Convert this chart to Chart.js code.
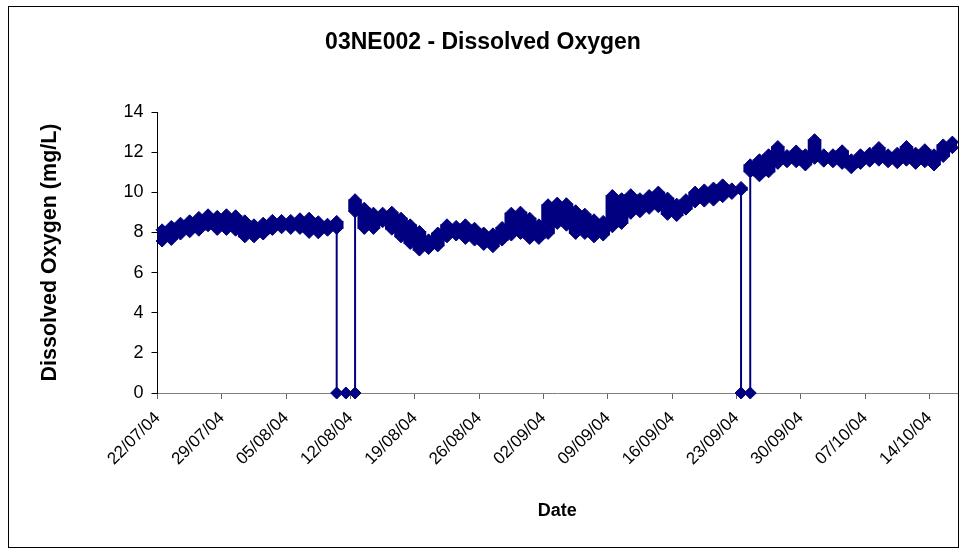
<!DOCTYPE html>
<html><head><meta charset="utf-8">
<script src="https://cdn.jsdelivr.net/npm/chart.js@4.4.0/dist/chart.umd.min.js"></script>
<style>html,body{margin:0;padding:0;background:#fff;}canvas{display:block;}</style>
</head><body>
<canvas id="c" width="966" height="555"></canvas>
<script>
const chartTitle = '03NE002 - Dissolved Oxygen';
const xAxisTitle = 'Date';
const yAxisTitle = 'Dissolved Oxygen (mg/L)';
const tickLabels = ['22/07/04','29/07/04','05/08/04','12/08/04','19/08/04','26/08/04','02/09/04','09/09/04','16/09/04','23/09/04','30/09/04','07/10/04','14/10/04'];
const tickStepDays = 7;
const axisDays = 87;          // 22/07/04 .. 17/10/04
const yMin = 0, yMax = 14, yStep = 2;

// Daily lowest / highest readings (mg/L), day 0 = 22/07/04; null = no normal reading that day
const dailyLow = [7.57,7.65,7.92,8.03,8.11,8.33,8.15,8.15,8.11,7.78,
  7.78,7.92,8.15,8.23,8.20,8.20,8.00,7.98,8.11,8.20,
  null,9.03,8.20,8.20,8.53,8.16,7.78,7.45,7.12,7.20,
  7.33,7.78,7.87,7.70,7.62,7.40,7.29,7.62,7.87,7.95,
  7.70,7.70,7.95,8.45,8.36,7.95,7.95,7.78,7.87,8.28,
  8.45,8.95,9.03,9.20,9.28,8.90,8.84,9.16,9.52,9.56,
  9.61,9.78,9.94,10.11,11.02,10.82,11.02,11.44,11.52,11.52,
  11.36,11.69,11.55,11.52,11.44,11.22,11.44,11.55,11.60,11.52,
  11.47,11.60,11.44,11.52,11.36,11.78,12.22];
const dailyHigh = [8.13,8.30,8.46,8.58,8.75,8.88,8.80,8.88,8.83,8.58,
  8.38,8.46,8.60,8.60,8.60,8.68,8.71,8.53,8.41,8.55,
  null,9.63,9.21,8.96,8.96,9.01,8.71,8.38,8.05,7.63,
  7.97,8.38,8.30,8.38,8.21,7.97,7.93,8.25,8.96,9.01,
  8.71,8.38,9.38,9.46,9.43,9.08,8.91,8.63,8.55,9.84,
  9.68,9.88,9.68,9.84,10.01,9.71,9.41,9.63,10.01,10.12,
  10.21,10.37,10.17,10.24,11.37,11.62,11.87,12.28,11.83,12.06,
  11.87,12.62,11.87,11.87,12.07,11.62,11.87,11.95,12.23,11.87,
  11.95,12.28,11.95,12.12,11.87,12.36,12.50];
// Days on which the probe logged 0 mg/L readings
const zeroDays = [19,20,21,63,64];

// readings in time order (each day's readings are plotted at mid-day)
const points = [];
const ranges = [];
for (let d = 0; d < dailyLow.length; d++) {
  const x = d + 0.5;
  const vals = dailyLow[d] == null ? [] : [dailyLow[d], dailyHigh[d]];
  const hasZero = zeroDays.includes(d);
  const zeroFirst = hasZero && zeroDays.includes(d - 1);
  if (zeroFirst) points.push({x, y: 0});
  vals.forEach(v => points.push({x, y: v}));
  if (hasZero && !zeroFirst) points.push({x, y: 0});
  if (vals.length) ranges.push({x, y: [dailyLow[d], dailyHigh[d]]});
}

const FONT = 'Liberation Sans, Arial, sans-serif';
const NAVY = '#000080';

const framePlugin = {
  id: 'frame',
  afterDraw(chart) {
    const c = chart.ctx;
    c.save();
    c.strokeStyle = '#000';
    c.lineWidth = 1;
    c.strokeRect(8.5, 6.5, 950, 541);
    c.restore();
  }
};

new Chart(document.getElementById('c'), {
  data: {
    datasets: [{
      type: 'bar',
      data: ranges,
      backgroundColor: NAVY,
      borderWidth: 0,
      barThickness: 13,
      grouped: false,
      order: 2
    }, {
      type: 'line',
      data: points,
      borderColor: NAVY,
      backgroundColor: NAVY,
      borderWidth: 2,
      pointStyle: 'rectRot',
      pointRadius: 6,
      pointBorderWidth: 1,
      pointBackgroundColor: NAVY,
      pointBorderColor: NAVY,
      tension: 0,
      clip: false,
      order: 1
    }]
  },
  options: {
    responsive: false,
    animation: false,
    devicePixelRatio: 1,
    layout: { padding: { left: 9, right: 9, top: 7, bottom: 8 } },
    plugins: {
      legend: { display: false },
      tooltip: { enabled: false },
      title: {
        display: true, text: chartTitle, color: '#000',
        font: { family: FONT, size: 23, weight: 'bold', lineHeight: 1 },
        padding: { top: 24, bottom: 58 }
      }
    },
    scales: {
      x: {
        type: 'linear', min: 0, max: axisDays, offset: false,
        afterBuildTicks: s => { s.ticks = tickLabels.map((_, i) => ({ value: i * tickStepDays })); },
        afterFit: s => { s.height = 154; },
        ticks: {
          autoSkip: false, maxRotation: 45, minRotation: 45, color: '#000', padding: 9,
          font: { family: FONT, size: 17 },
          callback: v => tickLabels[Math.round(v / tickStepDays)]
        },
        grid: { display: true, drawOnChartArea: false, drawTicks: true, tickLength: 6, tickColor: '#666', offset: false },
        border: { display: true, color: '#808080', width: 1 },
        title: {
          display: true, text: xAxisTitle, color: '#000',
          font: { family: FONT, size: 18, weight: 'bold', lineHeight: 1 },
          padding: { top: 0, bottom: 27 }
        }
      },
      y: {
        min: yMin, max: yMax,
        afterFit: s => { s.width = 148.5; },
        ticks: { stepSize: yStep, color: '#000', padding: 8, font: { family: FONT, size: 18 } },
        grid: { display: true, drawOnChartArea: false, drawTicks: true, tickLength: 6, tickColor: '#000' },
        border: { display: true, color: '#000', width: 1 },
        title: {
          display: true, text: yAxisTitle, color: '#000',
          font: { family: FONT, size: 21.5, weight: 'bold', lineHeight: 1 },
          padding: { top: 30, bottom: 0 }
        }
      }
    }
  },
  plugins: [framePlugin]
});
</script>
</body></html>
